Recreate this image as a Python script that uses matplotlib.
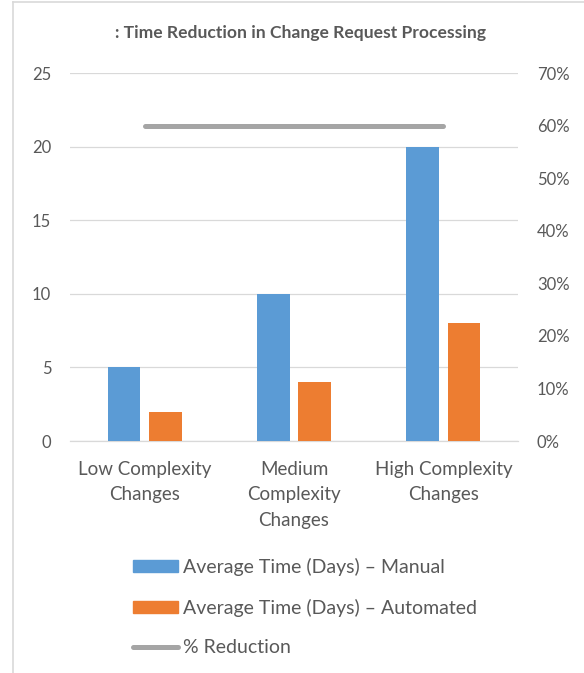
import matplotlib
matplotlib.use("Agg")
import matplotlib.pyplot as plt
import numpy as np
from matplotlib.lines import Line2D
from matplotlib.patches import Patch
from matplotlib.ticker import PercentFormatter

categories = ["Low Complexity\nChanges", "Medium\nComplexity\nChanges", "High Complexity\nChanges"]
manual = [5, 10, 20]
automated = [2, 4, 8]
reduction = [0.60, 0.60, 0.60]
series_names = ["Average Time (Days) – Manual", "Average Time (Days) – Automated", "% Reduction"]
title = ": Time Reduction in Change Request Processing"

BLUE = "#5B9BD5"
ORANGE = "#ED7D31"
GRAY = "#A5A5A5"
TXT = "#595959"
GRID = "#D9D9D9"

plt.rcParams['font.family'] = ['Lato', 'DejaVu Sans']

fig = plt.figure(figsize=(5.84, 6.73), dpi=100)
ax = fig.add_axes([70/584, 1-441/673, 448/584, 368/673])
ax2 = ax.twinx()

x = np.arange(len(categories))
w = 0.22
ax.bar(x - 0.138, manual, width=w, color=BLUE, zorder=3)
ax.bar(x + 0.138, automated, width=w, color=ORANGE, zorder=3)
ax2.plot(x, reduction, color=GRAY, lw=3.6, solid_capstyle='round', zorder=4)

ax.set_xlim(-0.5, 2.5)
ax.set_ylim(0, 25)
ax.set_yticks(range(0, 26, 5))
ax2.set_ylim(0, 0.7)
ax2.set_yticks(np.arange(0, 0.71, 0.1))
ax2.yaxis.set_major_formatter(PercentFormatter(1.0, decimals=0))

ax.yaxis.grid(True, color=GRID, lw=0.9, zorder=0)
ax.set_axisbelow(True)
for a in (ax, ax2):
    for s in a.spines.values():
        s.set_visible(False)
    a.tick_params(length=0, labelsize=12, labelcolor=TXT)
ax.spines['bottom'].set_visible(True)
ax.spines['bottom'].set_color(GRID)
ax.spines['bottom'].set_linewidth(0.9)
ax.tick_params(axis='y', pad=13.5)
ax2.tick_params(axis='y', pad=13.6)
ax.set_xticks(x)
ax.set_xticklabels(categories, linespacing=1.59, fontsize=13.5)
ax.tick_params(axis='x', pad=14.5)

fig.text(300/584, 1-33/673, title, ha='center', va='center', fontsize=12.6,
         fontweight='bold', color=TXT)

handles = [Patch(color=BLUE), Patch(color=ORANGE), Line2D([], [], color=GRAY, lw=3.6, solid_capstyle='round')]
fig.legend(handles, series_names, loc='upper left', bbox_to_anchor=(133/584, 1-558/673),
           frameon=False, fontsize=14, labelcolor=TXT, handlelength=2.3, handleheight=0.57,
           handletextpad=0.26, labelspacing=1.16, borderpad=0, borderaxespad=0)

fig.add_artist(Line2D([13/584, 13/584], [0, 1-2/673], transform=fig.transFigure, color=GRID, lw=1.2))
fig.add_artist(Line2D([13/584, 1], [1-2/673, 1-2/673], transform=fig.transFigure, color=GRID, lw=1.2))

fig.savefig("out.png", dpi=100)
